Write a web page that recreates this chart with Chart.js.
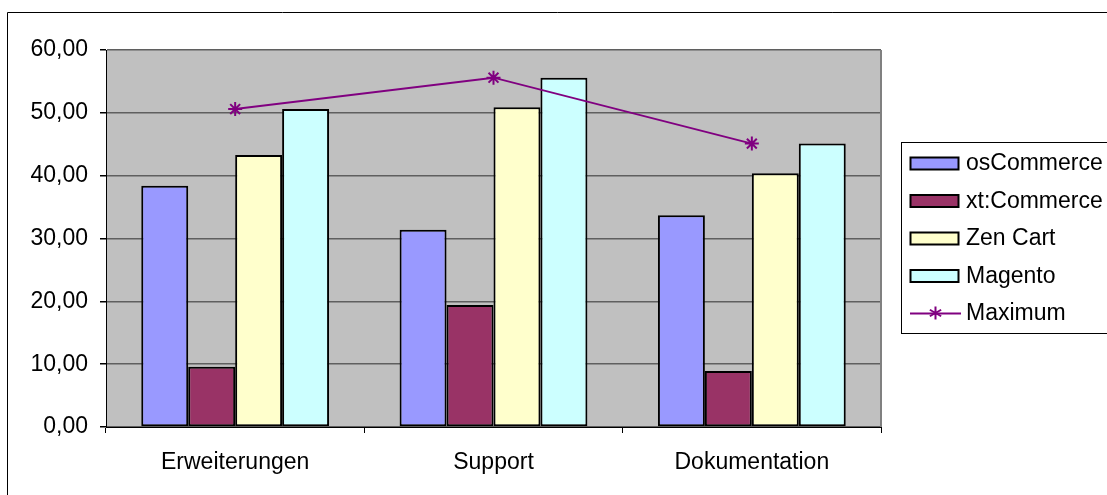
<!DOCTYPE html>
<html>
<head>
<meta charset="utf-8">
<script src="https://cdn.jsdelivr.net/npm/chart.js@4"></script>
<style>
  html, body { margin: 0; padding: 0; background: #fff; }
  #wrap { width: 1107px; height: 495px; position: relative; }
</style>
</head>
<body>
<div id="wrap"><canvas id="chartShops"></canvas></div>
<script>
const categories = ['Erweiterungen', 'Support', 'Dokumentation'];
const osCommerce = [38.4, 31.4, 33.7];
const xtCommerce = [9.6, 19.4, 8.9];
const zenCart = [43.3, 50.9, 40.4];
const magento = [50.6, 55.6, 45.1];
const maximum = [50.6, 55.6, 45.1];
const yTicks = [0, 10, 20, 30, 40, 50, 60];

const FONT = '"Liberation Sans", Arial, sans-serif';

// plot background, chart frame and the boxed legend on the right
const excelLook = {
  id: 'excelLook',
  beforeDraw(chart) {
    const { ctx, chartArea: a } = chart;
    ctx.save();
    ctx.fillStyle = '#c0c0c0';
    ctx.fillRect(a.left, a.top, a.right - a.left, a.bottom - a.top);
    ctx.strokeStyle = '#000';
    ctx.lineWidth = 1;
    ctx.beginPath();
    ctx.moveTo(7.5, 495);
    ctx.lineTo(7.5, 12.5);
    ctx.lineTo(1107, 12.5);
    ctx.stroke();
    ctx.restore();
  },
  beforeDatasetsDraw(chart) {
    const { ctx, chartArea: a } = chart;
    ctx.save();
    ctx.strokeStyle = '#808080';
    ctx.lineWidth = 2;
    ctx.beginPath();
    ctx.moveTo(a.right, a.top);
    ctx.lineTo(a.right, a.bottom);
    ctx.stroke();
    ctx.restore();
  },
  afterDraw(chart) {
    const ctx = chart.ctx;
    const sets = chart.data.datasets;
    ctx.save();
    ctx.fillStyle = '#fff';
    ctx.fillRect(901.5, 142.5, 220, 191);
    ctx.strokeStyle = '#000';
    ctx.lineWidth = 1;
    ctx.strokeRect(901.5, 142.5, 220, 191);
    ctx.font = '23px ' + FONT;
    ctx.textBaseline = 'middle';
    sets.forEach((ds, i) => {
      const y = 163 + i * 37.5;
      if (ds.type === 'line') {
        ctx.strokeStyle = ds.borderColor;
        ctx.lineWidth = 2;
        ctx.beginPath();
        ctx.moveTo(910, y + 0.5);
        ctx.lineTo(961, y + 0.5);
        ctx.stroke();
        const cx = 935.5, r = 6.5;
        ctx.beginPath();
        ctx.moveTo(cx, y - r); ctx.lineTo(cx, y + r);
        ctx.moveTo(cx - r * 0.87, y - r * 0.5); ctx.lineTo(cx + r * 0.87, y + r * 0.5);
        ctx.moveTo(cx - r * 0.87, y + r * 0.5); ctx.lineTo(cx + r * 0.87, y - r * 0.5);
        ctx.stroke();
      } else {
        ctx.fillStyle = ds.backgroundColor;
        ctx.fillRect(910.5, y - 5.5, 48, 12);
        ctx.strokeStyle = '#000';
        ctx.lineWidth = 2;
        ctx.strokeRect(910.5, y - 5.5, 48, 12);
      }
      ctx.fillStyle = '#000';
      ctx.fillText(ds.label, 966, y + 1);
    });
    ctx.restore();
  },
};

function barSet(label, data, color) {
  return {
    type: 'bar',
    label: label,
    data: data,
    backgroundColor: color,
    borderColor: '#000',
    borderWidth: 2,
    borderSkipped: false,
    categoryPercentage: 0.727,
    barPercentage: 1,
    order: 1,
  };
}

var ctx = document.getElementById('chartShops');
var myChart = new Chart(ctx, {
  data: {
    labels: categories,
    datasets: [
      barSet('osCommerce', osCommerce, '#9999ff'),
      barSet('xt:Commerce', xtCommerce, '#993366'),
      barSet('Zen Cart', zenCart, '#ffffcc'),
      barSet('Magento', magento, '#ccffff'),
      {
        type: 'line',
        label: 'Maximum',
        data: maximum,
        borderColor: '#800080',
        borderWidth: 2,
        pointStyle: 'star',
        pointRadius: 7,
        pointBorderWidth: 2,
        pointBorderColor: '#800080',
        pointBackgroundColor: '#800080',
        tension: 0,
        order: 0,
      },
    ],
  },
  options: {
    responsive: true,
    maintainAspectRatio: false,
    animation: false,
    layout: { padding: { left: 0, top: 50, right: 226, bottom: 0 } },
    plugins: {
      legend: { display: false },
      tooltip: { enabled: false },
    },
    scales: {
      x: {
        offset: true,
        afterFit: (scale) => { scale.height = 68; },
        grid: {
          offset: true,
          drawOnChartArea: false,
          tickLength: 6,
          tickColor: '#000',
        },
        border: { color: '#000', width: 1 },
        ticks: {
          color: '#000',
          padding: 16,
          maxRotation: 0,
          font: { family: FONT, size: 23 },
        },
      },
      y: {
        min: 0,
        max: 60,
        afterFit: (scale) => { scale.width = 106; },
        afterBuildTicks: (scale) => { scale.ticks = yTicks.map((v) => ({ value: v })); },
        grid: {
          color: '#5f5f5f',
          lineWidth: 1.5,
          tickLength: 6,
          tickColor: '#000',
        },
        border: { color: '#000', width: 1 },
        ticks: {
          color: '#000',
          padding: 12,
          font: { family: FONT, size: 23 },
          callback: (v) => v.toFixed(2).replace('.', ','),
        },
      },
    },
  },
  plugins: [excelLook],
});
</script>
</body>
</html>
